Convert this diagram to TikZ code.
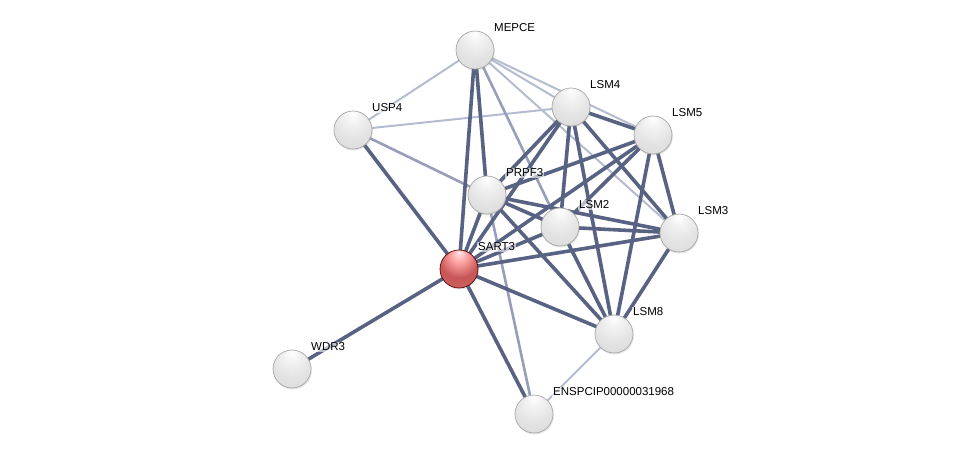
\documentclass[tikz,border=0pt]{standalone}
\usepackage{fontspec}
\setmainfont{Liberation Sans}
\usetikzlibrary{backgrounds,shadows}
\definecolor{thickc}{RGB}{88,98,130}
\definecolor{medc}{RGB}{150,158,185}
\definecolor{lightc}{RGB}{182,188,208}
\definecolor{redball}{RGB}{200,85,85}
\pgfdeclareradialshading{sphgray}{\pgfpoint{0bp}{22bp}}{color(0bp)=(white); color(10bp)=(white!95!black); color(26bp)=(gray!22); color(50bp)=(gray!32); color(64bp)=(gray!28); color(70bp)=(gray!45); color(74bp)=(gray!65)}
\pgfdeclareradialshading{sphred}{\pgfpoint{0bp}{22bp}}{color(0bp)=(red!10!white); color(10bp)=(red!35!white); color(26bp)=(redball); color(50bp)=(redball!85!white); color(64bp)=(redball!65!white); color(70bp)=(redball!80!black); color(74bp)=(red!40!black)}
\tikzset{
  prot/.style={circle, minimum size=38pt, inner sep=0pt, draw=gray!70, line width=0.7pt, shading=sphgray,
    drop shadow={shadow xshift=0.8pt, shadow yshift=-1.5pt, opacity=0.2}},
  seed/.style={prot, shading=sphred, draw=red!35!black},
  lab/.style={anchor=west, inner sep=1pt, fill=white, fill opacity=0.6, text opacity=1, font=\fontsize{11.5pt}{13pt}\selectfont},
  thick edge/.style={draw=thickc, line width=3.6pt},
  med edge/.style={draw=medc, line width=2.6pt},
  light edge/.style={draw=lightc, line width=2pt},
}
\begin{document}
\begin{tikzpicture}[x=1pt, y=-1pt]
\useasboundingbox (0,0) rectangle (976,459);
\node[prot] (mepce) at (475,50) {};
\node[prot] (usp4) at (353,130) {};
\node[prot] (lsm4) at (571,107) {};
\node[prot] (lsm5) at (653,135) {};
\node[prot] (prpf3) at (487,195) {};
\node[prot] (lsm2) at (560,227) {};
\node[prot] (lsm3) at (679,233) {};
\node[seed] (sart3) at (459,269) {};
\node[prot] (lsm8) at (614,334) {};
\node[prot] (wdr3) at (292,369) {};
\node[prot] (ensp) at (534,414) {};

\node[lab] (lmepce) at ([shift={(18,-22)}]mepce.center) {MEPCE};
\node[lab] (lusp4) at ([shift={(18,-22)}]usp4.center) {USP4};
\node[lab] (llsm4) at ([shift={(18,-22)}]lsm4.center) {LSM4};
\node[lab] (llsm5) at ([shift={(18,-22)}]lsm5.center) {LSM5};
\node[lab] (lprpf3) at ([shift={(18,-22)}]prpf3.center) {PRPF3};
\node[lab] (llsm2) at ([shift={(18,-22)}]lsm2.center) {LSM2};
\node[lab] (llsm3) at ([shift={(18,-22)}]lsm3.center) {LSM3};
\node[lab] (lsart3) at ([shift={(18,-22)}]sart3.center) {SART3};
\node[lab] (llsm8) at ([shift={(18,-22)}]lsm8.center) {LSM8};
\node[lab] (lwdr3) at ([shift={(18,-22)}]wdr3.center) {WDR3};
\node[lab] (lensp) at ([shift={(18,-22)}]ensp.center) {ENSPCIP00000031968};

\begin{pgfonlayer}{background}
\fill[white] (0,0) rectangle (976,459);
% light edges
\foreach \a/\b in {mepce/usp4, usp4/lsm4, mepce/lsm4, mepce/lsm5, mepce/lsm3, lsm8/ensp}
  \draw[light edge] (\a.center) -- (\b.center);
% medium edges
\foreach \a/\b in {mepce/lsm2, prpf3/ensp, usp4/prpf3}
  \draw[med edge] (\a.center) -- (\b.center);
% thick edges
\foreach \a/\b in {mepce/sart3, mepce/prpf3, usp4/sart3, sart3/wdr3, sart3/ensp, sart3/lsm8,
  sart3/lsm3, sart3/lsm2, sart3/lsm5, sart3/lsm4, sart3/prpf3,
  prpf3/lsm4, prpf3/lsm5, prpf3/lsm2, prpf3/lsm3, prpf3/lsm8,
  lsm4/lsm5, lsm4/lsm2, lsm4/lsm3, lsm4/lsm8,
  lsm5/lsm2, lsm5/lsm3, lsm5/lsm8,
  lsm2/lsm3, lsm2/lsm8, lsm3/lsm8}
  \draw[thick edge] (\a.center) -- (\b.center);
\end{pgfonlayer}
\end{tikzpicture}
\end{document}
